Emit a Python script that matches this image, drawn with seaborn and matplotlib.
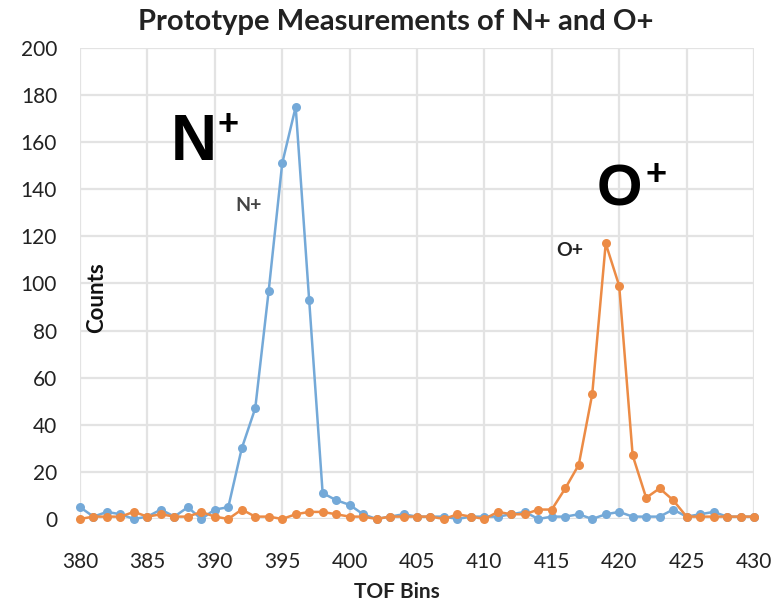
import numpy as np
import pandas as pd
import matplotlib
matplotlib.use('Agg')
import matplotlib.pyplot as plt
import seaborn as sns

# TOF bins 380..430
tof_bins = list(range(380, 431))

n_plus = [5, 1, 3, 2, 0, 1, 4, 1, 5, 0,
          4, 5, 30, 47, 97, 151, 175, 93, 11, 8,
          6, 2, 0, 1, 2, 1, 1, 1, 0, 1,
          1, 1, 2, 3, 0, 1, 1, 2, 0, 2,
          3, 1, 1, 1, 4, 1, 2, 3, 1, 1, 1]

o_plus = [0, 1, 1, 1, 3, 1, 2, 1, 1, 3,
          1, 0, 4, 1, 1, 0, 2, 3, 3, 2,
          1, 1, 0, 1, 1, 1, 1, 0, 2, 1,
          0, 3, 2, 2, 4, 4, 13, 23, 53, 117,
          99, 27, 9, 13, 8, 1, 1, 1, 1, 1, 1]

x_ticks = list(range(380, 431, 5))
y_ticks = list(range(0, 201, 20))

blue = '#74a9d8'
orange = '#ec8b45'

sns.set_style('whitegrid')
plt.rcParams['font.family'] = ['Lato', 'DejaVu Sans']

df = pd.DataFrame({'bin': tof_bins, 'N+': n_plus, 'O+': o_plus})

fig = plt.figure(figsize=(7.73, 6.06), dpi=100)
ax = fig.add_axes([0.1035, 0.1436, 0.8719, 0.7772])

sns.lineplot(x='bin', y='N+', data=df, ax=ax, color=blue, marker='o',
             markersize=6.5, markeredgewidth=0, linewidth=1.8, clip_on=False)
sns.lineplot(x='bin', y='O+', data=df, ax=ax, color=orange, marker='o',
             markersize=6.5, markeredgewidth=0, linewidth=1.8, clip_on=False)

ax.set_xlim(380, 430)
ax.set_ylim(0, 200)
ax.set_xticks(x_ticks)
ax.set_yticks(y_ticks)
ax.grid(True, color='#e3e3e3', linewidth=1.6)
for s in ax.spines.values():
    s.set_visible(False)
ax.tick_params(axis='both', length=0, labelsize=15, colors='#222222')
ax.tick_params(axis='x', pad=24)
ax.tick_params(axis='y', pad=16.5)

fig.text(0.512, 0.964, 'Prototype Measurements of N+ and O+', fontsize=21,
         fontweight='bold', color='#222222', ha='center', va='center')
ax.set_xlabel('TOF Bins', fontsize=15, fontweight='bold', color='#222222')
ax.xaxis.label.set_va('center')
ax.xaxis.set_label_coords(0.47, -0.155)
ax.set_ylabel('Counts', fontsize=16, fontweight='bold', color='#111111')
ax.yaxis.label.set_va('center')
ax.yaxis.set_label_coords(0.024, 0.47)

# small series labels
ax.text(392.5, 133, 'N+', fontsize=14, fontweight='bold', color='#444444',
        ha='center', va='center')
ax.text(416.3, 114, 'O+', fontsize=14, fontweight='bold', color='#222222',
        ha='center', va='center')

# big annotations
ax.text(386.7, 152.4, 'N', fontsize=46, fontweight='bold', color='black',
        family='Liberation Sans', ha='left', va='baseline')
ax.text(391.0, 167, '+', fontsize=26, fontweight='bold', color='black',
        family='Liberation Sans', ha='center', va='center')
ax.text(418.3, 133.3, 'O', fontsize=42, fontweight='bold', color='black',
        family='Liberation Sans', ha='left', va='baseline')
ax.text(422.7, 146, '+', fontsize=26, fontweight='bold', color='black',
        family='Liberation Sans', ha='center', va='center')

fig.savefig('out.png', dpi=100)
